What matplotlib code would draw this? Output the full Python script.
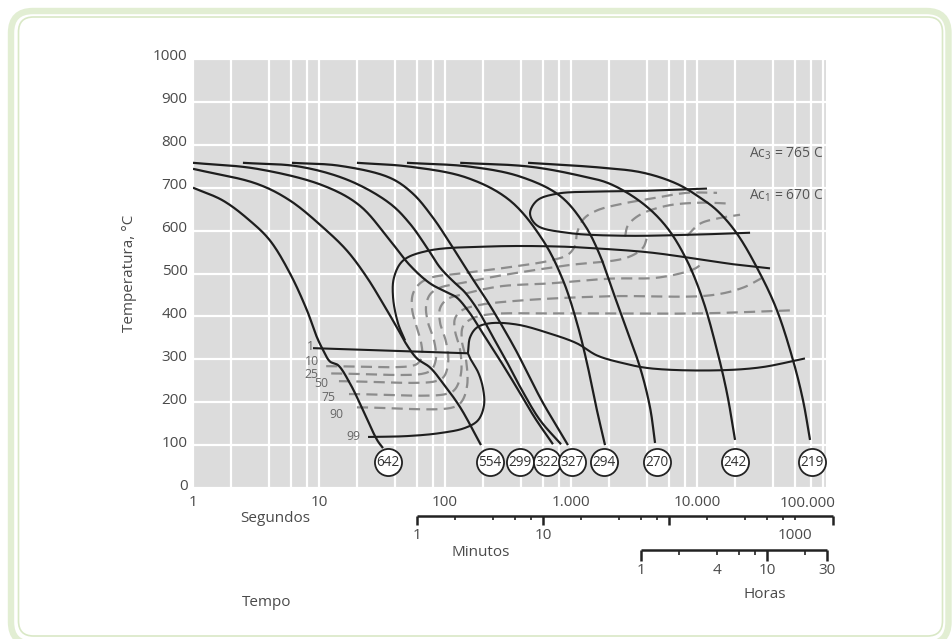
import numpy as np
import matplotlib
matplotlib.use("Agg")
import matplotlib.pyplot as plt
from matplotlib.patches import FancyBboxPatch
from matplotlib.ticker import FixedLocator, FuncFormatter, NullFormatter
from matplotlib.transforms import blended_transform_factory, ScaledTranslation

plt.rcParams['font.family'] = ['Open Sans', 'DejaVu Sans']
plt.rcParams['mathtext.fontset'] = 'custom'
plt.rcParams['mathtext.rm'] = 'Open Sans'
plt.rcParams['mathtext.it'] = 'Open Sans'
plt.rcParams['lines.scale_dashes'] = False

# ---------------- data (time in s, temperature in C) ----------------
c642_t = [1, 1.73, 2.83, 4.08, 5.89, 8.03, 9.64, 10.8, 12.2, 14.2, 17.6, 22.4, 28.9, 32.2]
c642_T = [700, 670, 623, 577, 500, 414, 351, 321, 295, 286, 244, 181, 112, 93]
c554_t = [1, 3.22, 5.89, 10.8, 16.7, 24.0, 32.2, 41.6, 49.9, 59.9, 76.0, 96.4, 132, 193]
c554_T = [744, 709, 670, 607, 553, 491, 430, 374, 333, 302, 281, 244, 188, 100]
c299_t = [1, 3.22, 10.8, 21.1, 36.6, 52.7, 76.0, 104, 124, 158, 200, 273, 373, 518, 719]
c299_T = [758, 744, 705, 658, 577, 519, 477, 456, 444, 407, 360, 298, 233, 163, 102]
c322_t = [2.49, 7.06, 17.6, 36.6, 52.7, 72.0, 91.3, 114, 144, 183, 236, 311, 408, 568, 834]
c322_T = [758, 749, 716, 663, 616, 560, 514, 484, 456, 414, 356, 293, 228, 158, 102]
c327_t = [6.10, 14.7, 36.6, 55.7, 80.3, 110, 150, 215, 289, 373, 473, 600, 760, 946]
c327_T = [758, 751, 723, 686, 630, 570, 507, 437, 374, 316, 256, 198, 147, 100]
c294_t = [20.0, 52.7, 150, 328, 600, 865, 1117, 1340, 1607, 1862]
c294_T = [758, 749, 723, 670, 577, 484, 384, 291, 181, 100]
c270_t = [49.9, 158, 394, 818, 1291, 1700, 2040, 2780, 3532, 4237, 4645]
c270_T = [758, 749, 726, 681, 612, 542, 477, 367, 281, 188, 105]
c242_t = [132, 473, 1178, 2040, 3724, 5781, 8332, 11170, 14420, 17300, 20040]
c242_T = [758, 749, 728, 709, 663, 607, 530, 437, 321, 221, 112]
c219_t = [456, 1700, 3724, 6934, 10560, 14420, 20750, 31620, 43150, 57810, 69340, 78890]
c219_T = [758, 747, 735, 709, 677, 647, 593, 500, 414, 298, 205, 112]

hardness = ['642', '554', '299', '322', '327', '294', '270', '242', '219']
hardness_t = [35.3, 228, 394, 645, 1019, 1828, 4815, 20040, 81800]
hardness_T = [60, 60, 60, 60, 60, 60, 60, 60, 60]

# transformation boundaries (solid)
p1_t = [8.96, 152]
p1_T = [326, 314]
p99_t = [24.5, 49.9, 91.3, 144, 183, 204, 200, 183, 161, 152]
p99_T = [119, 121, 128, 140, 158, 193, 233, 270, 298, 314]
bs_t = [152, 158, 179, 228, 373, 681, 1117, 1607, 2587, 4237, 12680, 31620, 71940]
bs_T = [314, 351, 374, 384, 381, 360, 337, 309, 291, 279, 274, 281, 302]
bloop_t = [37960, 20040, 10560, 4237, 1700, 774, 228, 73.3, 46.4, 39.4, 38.7, 42.4, 48.2]
bloop_T = [512, 521, 533, 549, 558, 563, 563, 553, 530, 491, 444, 384, 344]
ploop_t = [12000, 4237, 1700, 774, 537, 473, 537, 929, 2587, 10560, 26370]
ploop_T = [698, 693, 691, 686, 670, 640, 612, 595, 588, 591, 595]

# intermediate percentage lines (dashed)
d10_t = [11.4, 52.7, 61.1, 65.7, 64.5, 58.9, 54.7, 55.7, 63.3, 78.8, 132, 311, 681, 946, 1076, 1117, 1268, 1607, 2587, 4237, 8332, 14420]
d10_T = [284, 284, 291, 309, 340, 379, 419, 453, 477, 491, 500, 514, 530, 544, 565, 595, 628, 647, 663, 674, 688, 688]
d25_t = [12.5, 68.1, 78.8, 84.8, 81.8, 73.3, 70.7, 76.0, 91.3, 132, 273, 929, 2780, 3724, 4009]
d25_T = [267, 267, 277, 302, 344, 386, 423, 451, 467, 477, 495, 519, 537, 560, 584]
d50_t = [14.4, 84.8, 98.2, 106, 102, 91.3, 91.3, 104, 136, 273, 681, 2040, 5082, 10000, 11170]
d50_T = [249, 249, 260, 293, 340, 386, 419, 440, 451, 470, 477, 488, 491, 514, 530]
d75_t = [17.3, 102, 120, 134, 132, 120, 120, 136, 183, 394, 2040, 12680, 23180, 33420]
d75_T = [219, 219, 230, 267, 321, 367, 395, 414, 426, 437, 447, 449, 467, 491]
d90_t = [20.0, 116, 136, 150, 147, 136, 139, 164, 228, 681, 10560, 54700]
d90_T = [188, 188, 202, 240, 298, 344, 377, 395, 405, 407, 407, 414]
u2_t = [2685, 2831, 3532, 5781, 10560, 18280]
u2_T = [586, 612, 637, 658, 665, 663]
u3_t = [8332, 10560, 14420, 21950]
u3_T = [588, 616, 628, 637]

pct_labels = ['1', '10', '25', '50', '75', '90', '99']
pct_t = [8.49, 8.75, 8.75, 10.5, 11.8, 13.8, 18.7]
pct_T = [330, 294, 265, 244, 210, 171, 119]

sec_ticks = [1, 10, 100, 1000, 10000, 100000]
sec_labels = ['1', '10', '100', '1.000', '10.000', '100.000']
y_ticks = list(range(0, 1001, 100))

min_major = [1, 10, 100, 2000]
min_minor = [2, 4, 6, 8, 20, 40, 60, 80, 200, 400, 600, 800, 1000]
min_labels = {1: '1', 10: '10', 1000: '1000'}
hr_major = [1, 10, 30]
hr_minor = [2, 4, 6, 8, 20]
hr_labels = {1: '1', 4: '4', 10: '10', 30: '30'}

# ---------------- helpers ----------------
def smooth(t, T, n=18):
    x = np.log10(np.asarray(t, float)) * 126.0
    y = np.asarray(T, float) * 0.43
    P = np.column_stack([x, y])
    if len(P) < 3:
        return np.asarray(t, float), np.asarray(T, float)
    P = np.vstack([2 * P[0] - P[1], P, 2 * P[-1] - P[-2]])
    pts = []
    for i in range(1, len(P) - 2):
        p0, p1, p2, p3 = P[i - 1], P[i], P[i + 1], P[i + 2]
        d01 = max(np.hypot(*(p1 - p0)) ** 0.5, 1e-6)
        d12 = max(np.hypot(*(p2 - p1)) ** 0.5, 1e-6)
        d23 = max(np.hypot(*(p3 - p2)) ** 0.5, 1e-6)
        t0 = 0.0; t1 = d01; t2 = t1 + d12; t3 = t2 + d23
        u = np.linspace(t1, t2, n, endpoint=False)[:, None]
        A1 = (t1 - u) / (t1 - t0) * p0 + (u - t0) / (t1 - t0) * p1
        A2 = (t2 - u) / (t2 - t1) * p1 + (u - t1) / (t2 - t1) * p2
        A3 = (t3 - u) / (t3 - t2) * p2 + (u - t2) / (t3 - t2) * p3
        B1 = (t2 - u) / (t2 - t0) * A1 + (u - t0) / (t2 - t0) * A2
        B2 = (t3 - u) / (t3 - t1) * A2 + (u - t1) / (t3 - t1) * A3
        C = (t2 - u) / (t2 - t1) * B1 + (u - t1) / (t2 - t1) * B2
        pts.append(C)
    pts.append(P[-2][None, :])
    pts = np.vstack(pts)
    return 10 ** (pts[:, 0] / 126.0), pts[:, 1] / 0.43

# ---------------- figure ----------------
W, H = 953, 639
fig = plt.figure(figsize=(W / 100, H / 100), dpi=100)
fig.patch.set_facecolor('white')

outer = FancyBboxPatch((0.11, -0.05), 9.375, 6.33, boxstyle="round,pad=0,rounding_size=0.22",
                       transform=fig.dpi_scale_trans, fill=False, ec='#e2eed3', lw=4.6)
inner = FancyBboxPatch((0.185, 0.03), 9.24, 6.19, boxstyle="round,pad=0,rounding_size=0.15",
                       transform=fig.dpi_scale_trans, fill=False, ec='#d9e8c6', lw=1.2)
fig.add_artist(outer)
fig.add_artist(inner)

XMAX = 105630
ax = fig.add_axes([193 / W, 151 / H, 633 / W, 429 / H])
ax.set_facecolor('#dcdcdc')
ax.set_xscale('log')
ax.set_xlim(1, XMAX)
ax.set_ylim(0, 1000)
for s in ax.spines.values():
    s.set_visible(False)

txtc = '#4a4a4a'
ax.set_xticks(sec_ticks)
ax.set_xticklabels(sec_labels[:-1] + [''])
minor = [m * 10 ** k for k in range(0, 5) for m in (2, 4, 6, 8)]
ax.xaxis.set_minor_locator(FixedLocator(minor))
ax.xaxis.set_minor_formatter(NullFormatter())
ax.set_yticks(y_ticks)
ax.tick_params(axis='both', which='both', length=0, labelsize=11, labelcolor=txtc)
ax.tick_params(axis='x', pad=5)
ax.tick_params(axis='y', pad=4)
ax.grid(True, which='both', color='white', lw=1.6)
ax.set_axisbelow(True)
yoff = ScaledTranslation(0, 4 / 100, fig.dpi_scale_trans)
for tk in ax.yaxis.get_major_ticks():
    tk.label1.set_transform(tk.label1.get_transform() + yoff)
bt = blended_transform_factory(ax.transData, ax.transAxes)
ax.text(100000 * 10 ** (-15 / 126), -0.0195, sec_labels[-1], transform=bt, ha='center', va='top',
        fontsize=11, color=txtc)

ax.set_ylabel('Temperatura, °C', fontsize=11, color=txtc)
ax.yaxis.set_label_coords(-0.088, 0.5)

# dashed lines
dash_col = '#8c8c8c'
for t, T in [(d10_t, d10_T), (d25_t, d25_T), (d50_t, d50_T), (d75_t, d75_T), (d90_t, d90_T),
             (u2_t, u2_T), (u3_t, u3_T)]:
    xs, ys = smooth(t, T)
    ax.plot(xs, ys, color=dash_col, lw=1.6, dashes=(8, 4.5), zorder=3)

solid_col = '#1e1e1e'
for t, T in [(p1_t, p1_T), (p99_t, p99_T), (bs_t, bs_T), (bloop_t, bloop_T), (ploop_t, ploop_T)]:
    xs, ys = smooth(t, T)
    ax.plot(xs, ys, color=solid_col, lw=1.5, zorder=4, solid_capstyle='butt')

for t, T in [(c642_t, c642_T), (c554_t, c554_T), (c299_t, c299_T), (c322_t, c322_T),
             (c327_t, c327_T), (c294_t, c294_T), (c270_t, c270_T), (c242_t, c242_T),
             (c219_t, c219_T)]:
    xs, ys = smooth(t, T)
    ax.plot(xs, ys, color=solid_col, lw=1.6, zorder=4, solid_capstyle='butt')

ax.scatter(hardness_t, hardness_T, s=380, facecolor='white', edgecolor='#222222', lw=1.3, zorder=6)
for lab, t, T in zip(hardness, hardness_t, hardness_T):
    ax.text(t, T, lab, ha='center', va='center', fontsize=9.8, color='#333333', zorder=7)

for lab, t, T in zip(pct_labels, pct_t, pct_T):
    ax.text(t, T, lab, ha='center', va='center', fontsize=8.8, color='#666666', zorder=5)

ax.text(100000, 779, 'Ac$_3$ = 765 C', ha='right', va='center', fontsize=10, color='#555555')
ax.text(100000, 681, 'Ac$_1$ = 670 C', ha='right', va='center', fontsize=10, color='#555555')

# ---------------- secondary time scales (separate log axes) ----------------
RIGHT_PX = 860

def make_scale(ypx, unit, lo, hi, major, minor_t, labels, mlen, nlen, pad):
    a = fig.add_axes([193 / W, 1 - ypx / H, (RIGHT_PX - 193) / W, 1e-5])
    a.set_xscale('log')
    a.set_xlim(1.0 / unit, (10 ** ((RIGHT_PX - 193) / 126.0)) / unit)
    a.patch.set_visible(False)
    a.yaxis.set_visible(False)
    for s in ('top', 'left', 'right'):
        a.spines[s].set_visible(False)
    a.spines['bottom'].set_bounds(lo, hi)
    a.spines['bottom'].set_linewidth(1.8)
    a.spines['bottom'].set_color('#222222')
    a.spines['bottom'].set_capstyle('butt')
    a.xaxis.set_major_locator(FixedLocator(major))
    a.xaxis.set_minor_locator(FixedLocator(minor_t))
    fmt = FuncFormatter(lambda v, p: labels.get(int(round(v)), '') if abs(v - round(v)) < 1e-6 else '')
    a.xaxis.set_major_formatter(fmt)
    a.xaxis.set_minor_formatter(fmt)
    a.tick_params(which='major', length=mlen, width=1.8, color='#222222', labelsize=11,
                  labelcolor=txtc, pad=pad)
    a.tick_params(which='minor', length=nlen, width=1.2, color='#222222', labelsize=11,
                  labelcolor=txtc, pad=pad + (mlen - nlen))
    return a

make_scale(516, 60.0, 1, 2000, min_major, min_minor, min_labels, 6.8, 3.0, 1.5)
make_scale(550, 3600.0, 1, 30, hr_major, hr_minor, hr_labels, 8.0, 3.6, 1.5)

fig.text(275 / W, 1 - 518 / H, 'Segundos', ha='center', va='center', fontsize=11, color=txtc)
fig.text(481 / W, 1 - 553 / H, 'Minutos', ha='center', va='center', fontsize=11, color=txtc)
fig.text(765 / W, 1 - 595 / H, 'Horas', ha='center', va='center', fontsize=11, color=txtc)
fig.text(267 / W, 1 - 603 / H, 'Tempo', ha='center', va='center', fontsize=11, color=txtc)

fig.savefig('out.png', dpi=100, facecolor='white')
